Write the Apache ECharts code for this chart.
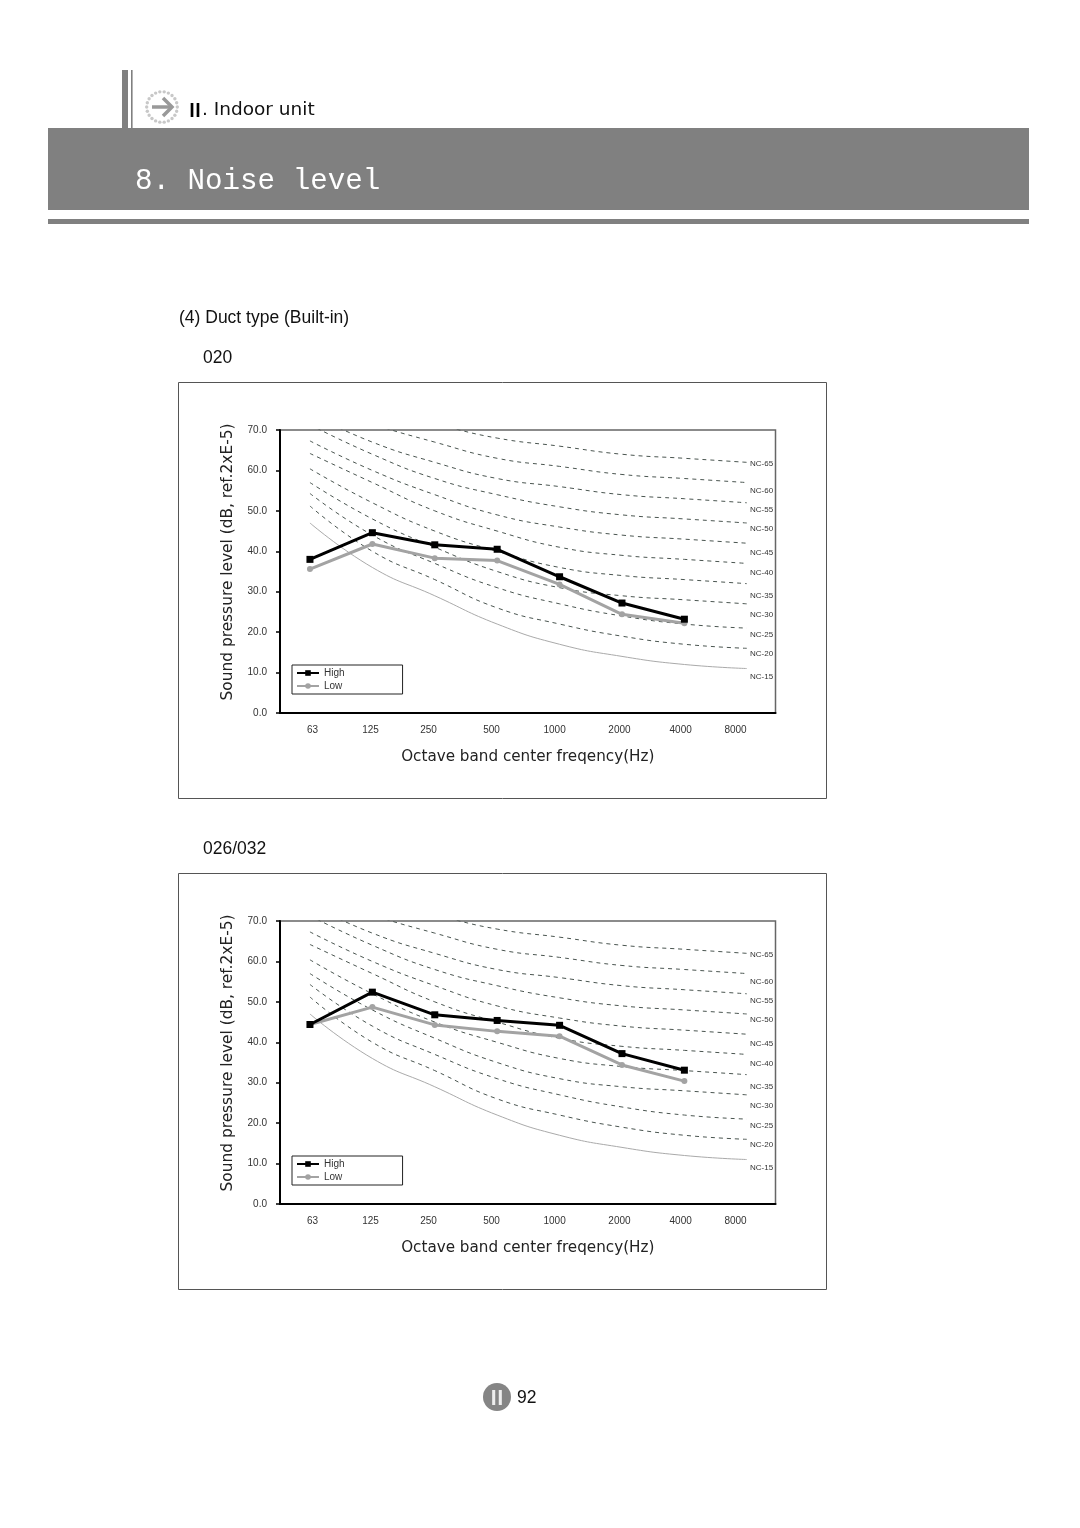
<!DOCTYPE html>
<html><head><meta charset="utf-8">
<style>html,body{margin:0;padding:0;background:#fff}#c{width:1080px;height:1528px}</style>
<script src="https://cdn.jsdelivr.net/npm/echarts@6/dist/echarts.min.js"></script>
</head><body><div id="c"></div>
<script>
const categories = ['63','125','250','500','1000','2000','4000','8000'];
const yLabels = ['0.0','10.0','20.0','30.0','40.0','50.0','60.0','70.0'];
const nc65 = [80,75,71.5,68,66,64,63,62];
const nc60 = [77,71.5,67,63,61,59,58,57];
const nc55 = [74,67,62,58,56,54,53,52];
const nc50 = [71.3,64,58,54,51,49,48,47];
const nc45 = [67.3,60,54,49,46,44,43,42];
const nc40 = [64.2,57,50,45,41,39,38,37];
const nc35 = [60.4,52,45,40,36,34,33,32];
const nc30 = [57,48,41,35,31,29,28,27];
const nc25 = [54.3,44,37,31,27,24,22,21];
const nc20 = [51.2,40,33,26,22,19,17,16];
const nc15 = [47,36,29,22,17,14,12,11];
const high020 = [38.0,44.6,41.6,40.5,33.7,27.2,23.2];
const low020  = [35.6,41.8,38.3,37.7,31.8,24.4,22.2];
const high026 = [44.4,52.4,46.8,45.4,44.2,37.2,33.1];
const low026  = [44.4,48.7,44.3,42.7,41.5,34.4,30.4];

const ncNames = ['NC-65','NC-60','NC-55','NC-50','NC-45','NC-40','NC-35','NC-30','NC-25','NC-20','NC-15'];
const ncCurves = [nc65,nc60,nc55,nc50,nc45,nc40,nc35,nc30,nc25,nc20,nc15];

// layout only
const ncLabelY = [464,491,510,529,552.5,573,596,615,635,654,677];
const xLabelPos = [0.04,0.97,1.90,2.91,3.92,4.96,5.94,6.82];
const panels = [
  {top:430, frameTop:382, high:high020, low:low020},
  {top:921, frameTop:873, high:high026, low:low026}
];
const SANS = '"Liberation Sans", Arial, sans-serif';
const WIDE = '"DejaVu Sans", sans-serif';
const idx = a => a.map((v,i)=>[i,v]);

const grid=[],xAxis=[],yAxis=[],series=[],legend=[],graphic=[];
const txt=(x,y,s,size,o={})=>graphic.push({type:'text',x,y,silent:true,z:o.z||5,rotation:o.rot||0,
  style:{text:s,fontSize:size,fontFamily:o.font||SANS,fontWeight:o.weight||'normal',fill:o.fill||'#111',
  textAlign:o.align||'left',textVerticalAlign:'middle',verticalAlign:'middle'}});
const rect=(x,y,w,h,fill,o={})=>graphic.push({type:'rect',x,y,silent:true,z:o.z||1,shape:{width:w,height:h,r:o.r||0},
  style:{fill,stroke:o.stroke||null,lineWidth:o.lw||0}});

// header
rect(122,70,6,58,'#808080');
rect(131,70,1.6,58,'#808080');
rect(48,128,981,82,'#808080');
rect(48,219,981,5,'#808080');
for(let i=0;i<22;i++){const a=i/22*2*Math.PI;
  graphic.push({type:'circle',silent:true,z:2,shape:{cx:162+15.3*Math.cos(a),cy:107+15.3*Math.sin(a),r:1.7},style:{fill:'#c8c8c8'}});}
graphic.push({type:'polyline',silent:true,z:3,shape:{points:[[152,107],[171,107]]},style:{stroke:'#999',lineWidth:3.5,fill:null}});
graphic.push({type:'polyline',silent:true,z:3,shape:{points:[[163,98],[172,107],[163,116]]},style:{stroke:'#999',lineWidth:3.5,fill:null}});
txt(186,110,'Ⅱ',18,{font:'"Noto Sans CJK KR"',weight:'bold',fill:'#000'});
txt(202,110,'. Indoor unit',18.5,{font:WIDE,fill:'#111'});
txt(135,181,'8. Noise level',29.2,{font:'"Liberation Mono", monospace',fill:'#fff'});

txt(179,318,'(4) Duct type (Built-in)',17.5);
txt(203,358,'020',17.5);
txt(203,849,'026/032',17.5);

graphic.push({type:'circle',silent:true,z:2,shape:{cx:497,cy:1397,r:14},style:{fill:'#858585'}});
txt(497,1397,'Ⅱ',20,{font:'"Noto Sans CJK KR"',weight:'bold',fill:'#eee',align:'center'});
txt(517,1398,'92',17.5);

panels.forEach((p,k)=>{
  rect(178.5,p.frameTop+0.5,648,416,null,{stroke:'#555',lw:1,z:1});
  grid.push({left:280,top:p.top,width:495.5,height:283,show:true,borderColor:'#666',borderWidth:1.5,backgroundColor:'transparent',z:2});
  xAxis.push({type:'value',gridIndex:k,min:-0.48,max:7.46,position:'bottom',z:3,
    name:'Octave band center freqency(Hz)',nameLocation:'middle',nameGap:37,nameMoveOverlap:false,
    nameTextStyle:{fontSize:15.2,fontFamily:WIDE,color:'#222'},
    axisLine:{show:true,onZero:false,lineStyle:{color:'#000',width:2}},axisTick:{show:false},splitLine:{show:false},
    axisLabel:{show:true,customValues:xLabelPos,margin:12,fontSize:10,fontFamily:SANS,color:'#333',hideOverlap:false,showMinLabel:true,showMaxLabel:true,
      formatter:v=>categories[xLabelPos.indexOf(v)]}});
  yAxis.push({type:'value',gridIndex:k,min:0,max:70,interval:10,z:3,
    name:'Sound pressure level (dB, ref.2xE-5)',nameLocation:'middle',nameGap:45,nameRotate:90,nameMoveOverlap:false,
    nameTextStyle:{fontSize:15.4,fontFamily:WIDE,color:'#222',padding:[0,0,0,19]},
    axisLine:{show:true,onZero:false,lineStyle:{color:'#000',width:2}},
    axisTick:{show:true,length:4,lineStyle:{color:'#000',width:1.5}},splitLine:{show:false},
    axisLabel:{margin:13,fontSize:10,fontFamily:SANS,color:'#333',formatter:v=>yLabels[v/10]}});
  ncCurves.forEach((c,i)=>{
    const solid=i===ncCurves.length-1;
    series.push({name:ncNames[i],type:'line',xAxisIndex:k,yAxisIndex:k,data:idx(c),smooth:0.5,symbol:'none',clip:true,silent:true,z:2,
      lineStyle:{color:solid?'#aaa':'#4a5550',width:1,type:solid?'solid':[4,4]}});
    txt(750,ncLabelY[i]+(k?491:0),ncNames[i],8,{fill:'#333',z:6});
  });
  series.push({name:'High',type:'line',xAxisIndex:k,yAxisIndex:k,data:idx(p.high),symbol:'rect',symbolSize:7,z:5,
    lineStyle:{color:'#000',width:3},itemStyle:{color:'#000'}});
  series.push({name:'Low',type:'line',xAxisIndex:k,yAxisIndex:k,data:idx(p.low),symbol:'circle',symbolSize:6,z:4,
    lineStyle:{color:'#a3a3a3',width:3},itemStyle:{color:'#a3a3a3'}});
  legend.push({data:['High','Low'],orient:'vertical',left:292,top:p.top+235,itemWidth:22,itemHeight:7,itemGap:3,
    padding:[3,58,3,4],backgroundColor:'#fff',borderColor:'#222',borderWidth:1,z:7,selectedMode:false,
    textStyle:{fontSize:10,fontFamily:SANS,color:'#333'}});
});

const chart=echarts.init(document.getElementById('c'),null,{renderer:'canvas'});
chart.setOption({animation:false,backgroundColor:'#fff',tooltip:{show:false},grid,xAxis,yAxis,series,legend,graphic:{elements:graphic}});
</script></body></html>
